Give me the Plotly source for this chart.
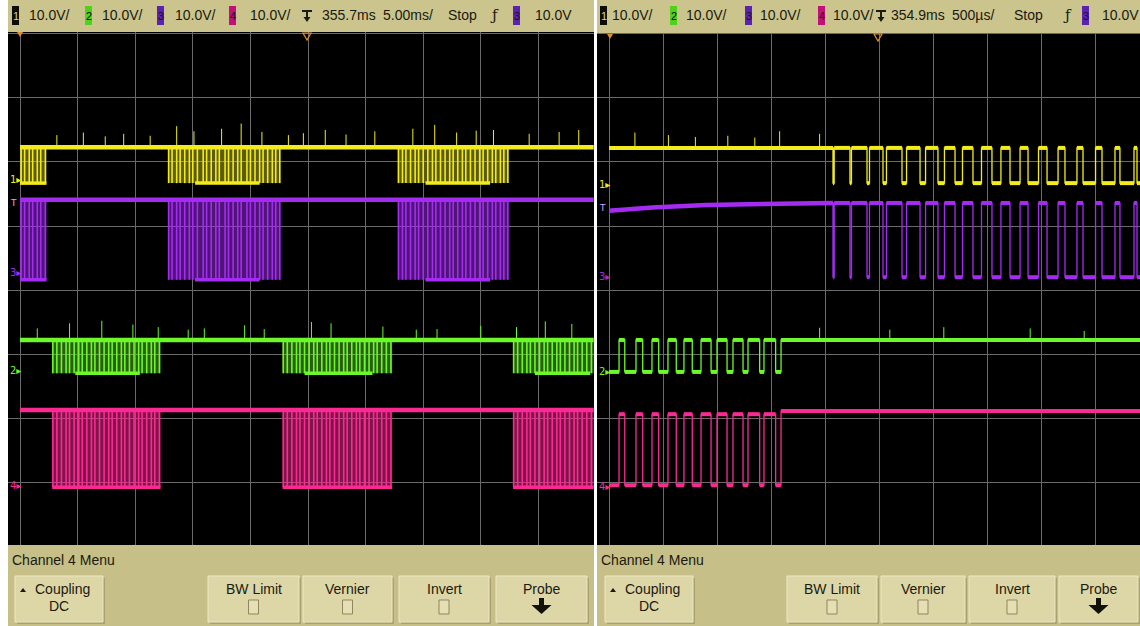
import plotly.graph_objects as go

W, H = 1140, 626

# ------------------------------------------------------------------ data
# Left capture: 5.00 ms/div, time in ms from the left graticule line,
# levels in volts (10 V/div, screen centre = 0 V, channel offsets included)
L_SPAN_MS = 49.8
L_CH1_HI, L_CH1_LO = 22.3, 16.7
L_CH3_HI, L_CH3_LO = 14.1, 1.6
L_CH2_HI, L_CH2_LO = -7.8, -13.0
L_CH4_HI, L_CH4_LO = -18.75, -30.8

L_BURSTS_13 = [(0.0, 2.3), (12.85, 22.6), (32.8, 42.4)]
L_BURSTS_24 = [(2.8, 12.2), (22.8, 32.3), (42.8, 49.8)]
L_LOWBAND_13 = [(0.0, 2.3), (15.2, 20.8), (35.2, 40.8)]
L_LOWBAND_2 = [(4.8, 10.4), (24.7, 30.6), (44.7, 49.5)]
L_LOWBAND_4 = [(2.8, 12.2), (22.8, 32.3), (42.8, 49.8)]
L_EDGES_13 = [0.1, 0.4, 0.8, 1.1, 1.5, 1.8, 2.2,
              12.9, 13.2, 13.6, 13.9, 14.3, 14.7, 15.0, 15.4, 15.9, 16.2, 16.6, 17.0, 17.3,
              17.8, 18.1, 18.5, 18.9, 19.2, 19.7, 20.0, 20.4, 20.8, 21.1, 21.5, 21.9, 22.2, 22.55,
              32.85, 33.2, 33.5, 33.9, 34.3, 34.6, 35.0, 35.4, 35.8, 36.1, 36.5, 36.9, 37.3,
              37.6, 38.0, 38.4, 38.7, 39.1, 39.5, 39.9, 40.2, 40.6, 41.0, 41.3, 41.7, 42.0, 42.35]
L_EDGES_24 = [2.85, 3.2, 3.6, 4.0, 4.3, 4.7, 5.1, 5.4, 5.8, 6.2, 6.5, 6.9, 7.3, 7.7, 8.0,
              8.4, 8.8, 9.1, 9.5, 9.9, 10.3, 10.6, 11.0, 11.4, 11.7, 12.1,
              22.85, 23.2, 23.6, 24.0, 24.3, 24.7, 25.1, 25.5, 25.8, 26.2, 26.6, 26.9, 27.3,
              27.7, 28.1, 28.4, 28.8, 29.2, 29.5, 29.9, 30.3, 30.7, 31.0, 31.4, 31.8, 32.2,
              42.85, 43.2, 43.6, 44.0, 44.3, 44.7, 45.1, 45.5, 45.8, 46.2, 46.6, 46.9, 47.3,
              47.7, 48.1, 48.4, 48.8, 49.2, 49.6]
L_SPIKES_CH1_T = [3.2, 5.5, 7.4, 9.0, 11.3, 13.6, 15.1, 17.5, 19.2, 21.0, 23.3, 24.6, 26.5,
                  28.3, 30.8, 34.1, 36.0, 37.9, 39.6, 41.1, 44.2, 46.8, 48.5]
L_SPIKES_CH1_V = [24.2, 24.6, 24.0, 24.4, 24.1, 25.6, 24.8, 25.2, 26.0, 24.7, 24.2, 24.5, 25.0,
                  24.3, 24.8, 25.2, 25.8, 24.6, 24.9, 25.0, 24.4, 24.7, 25.0]
L_SPIKES_CH2_T = [1.5, 4.3, 7.1, 9.8, 12.0, 14.6, 16.0, 19.5, 21.2, 25.3, 27.0, 31.5, 34.4,
                  36.2, 40.0, 43.1, 45.6, 47.9]
L_SPIKES_CH2_V = [-6.0, -5.2, -4.8, -5.4, -5.8, -6.2, -6.0, -5.5, -6.1, -5.0, -5.2, -5.7, -6.2,
                  -6.1, -5.6, -5.8, -4.9, -5.3]

# Right capture: 500 us/div, time in ms from the left graticule line
R_SPAN_MS = 4.92
R_CH1_HI, R_CH1_LO = 22.2, 16.7
R_CH3_HI, R_CH3_LO = 13.6, 2.0
R_CH2_HI, R_CH2_LO = -7.8, -12.8
R_CH4_HI, R_CH4_LO, R_CH4_IDLE = -19.4, -30.5, -18.9
R_CH3_DRIFT_T = [0.0, 0.4, 0.9, 1.5, 2.074]
R_CH3_DRIFT_V = [12.4, 12.9, 13.3, 13.5, 13.6]
R_FALL_13 = [2.074, 2.231, 2.389, 2.537, 2.713, 2.880, 3.046, 3.204, 3.370,
             3.546, 3.713, 3.880, 4.056, 4.222, 4.389, 4.565, 4.731, 4.889]
R_RISE_13 = [2.085, 2.245, 2.412, 2.569, 2.755, 2.931, 3.106, 3.273, 3.449,
             3.629, 3.806, 3.977, 4.158, 4.333, 4.505, 4.685, 4.861, 5.023]
R_RISE_24 = [0.093, 0.250, 0.398, 0.546, 0.694, 0.852, 1.000, 1.148, 1.287, 1.435, 1.593]
R_FALL_24 = [0.146, 0.312, 0.460, 0.623, 0.771, 0.945, 1.093, 1.241, 1.395, 1.543]
R_SPIKES_CH1_T = [0.24, 0.55, 0.8, 1.1, 1.35, 1.58, 1.95]
R_SPIKES_CH1_V = [24.6, 24.2, 23.9, 24.1, 23.8, 24.8, 24.4]
R_SPIKES_CH2_T = [1.95, 2.6, 3.1, 3.9, 4.4]
R_SPIKES_CH2_V = [-5.9, -6.2, -5.8, -6.0, -6.4]

YELLOW = "#f2ec1c"
PURPLE = "#a42cf2"
GREEN = "#6cf82a"
PINK = "#fa2a92"
KHAKI = "#cbc48d"
MENU = "#c6bf88"
FONT = "Liberation Sans, Arial, sans-serif"


def rgba(hexc, a):
    h = hexc.lstrip("#")
    return "rgba(%d,%d,%d,%.2f)" % (int(h[0:2], 16), int(h[2:4], 16), int(h[4:6], 16), a)


def segs(pairs, y):
    xs, ys = [], []
    for a, b in pairs:
        xs += [a, b, None]
        ys += [y, y, None]
    return xs, ys


def verts(times, y0, y1s):
    xs, ys = [], []
    for i, t in enumerate(times):
        y1 = y1s[i] if isinstance(y1s, list) else y1s
        xs += [t, t, None]
        ys += [y0, y1, None]
    return xs, ys


def rects(pairs, y0, y1):
    xs, ys = [], []
    for a, b in pairs:
        xs += [a, b, b, a, a, None]
        ys += [y0, y0, y1, y1, y0, None]
    return xs, ys


def inside(t, pairs):
    return any(a <= t <= b for a, b in pairs)


fig = go.Figure()


def add_line(xs, ys, color, width, axis):
    fig.add_trace(go.Scatter(x=xs, y=ys, mode="lines", line=dict(color=color, width=width),
                             xaxis="x" if axis == 1 else "x2", yaxis="y" if axis == 1 else "y2",
                             hoverinfo="skip", showlegend=False, connectgaps=False))


def add_fill(xs, ys, color, axis):
    fig.add_trace(go.Scatter(x=xs, y=ys, mode="lines", fill="toself", fillcolor=color,
                             line=dict(width=0, color=color),
                             xaxis="x" if axis == 1 else "x2", yaxis="y" if axis == 1 else "y2",
                             hoverinfo="skip", showlegend=False))


# ---------------------------------------------------------- left capture
def left_channel(hi, lo, bursts, edges, lowband, color, fill_a, spikes=None):
    add_fill(*rects(bursts, hi, lo), rgba(color, fill_a), 1)
    e = [t for t in edges if inside(t, bursts)]
    add_line(*verts(e, hi, lo), color, 1.6, 1)
    if spikes:
        add_line(*verts(spikes[0], hi, spikes[1]), color, 1, 1)
    add_line(*segs([(0, L_SPAN_MS)], hi), color, 4.5, 1)
    add_line(*segs(lowband, lo), color, 3.5, 1)


left_channel(L_CH1_HI, L_CH1_LO, L_BURSTS_13, L_EDGES_13, L_LOWBAND_13, YELLOW, 0.38,
             (L_SPIKES_CH1_T, L_SPIKES_CH1_V))
left_channel(L_CH3_HI, L_CH3_LO, L_BURSTS_13, L_EDGES_13, L_LOWBAND_13, PURPLE, 0.48)
left_channel(L_CH2_HI, L_CH2_LO, L_BURSTS_24, L_EDGES_24, L_LOWBAND_2, GREEN, 0.38,
             (L_SPIKES_CH2_T, L_SPIKES_CH2_V))
left_channel(L_CH4_HI, L_CH4_LO, L_BURSTS_24, L_EDGES_24, L_LOWBAND_4, PINK, 0.50)


# --------------------------------------------------------- right capture
def square(start_level, falls, rises, hi, lo, final_level=None):
    evts = [(t, lo) for t in falls] + [(t, hi) for t in rises]
    evts.sort()
    if final_level is not None:
        evts[-1] = (evts[-1][0], final_level)
    xs, ys = [0.0], [start_level]
    plateaus = []
    cur, cur_t = start_level, 0.0
    for t, lvl in evts:
        if t > R_SPAN_MS:
            break
        plateaus.append((cur_t, t, cur))
        xs += [t, t]
        ys += [cur, lvl]
        cur, cur_t = lvl, t
    xs.append(R_SPAN_MS)
    ys.append(cur)
    plateaus.append((cur_t, R_SPAN_MS, cur))
    return xs, ys, plateaus


def right_channel(xs, ys, plateaus, color, skip_before=None):
    add_line(xs, ys, color, 1.3, 2)
    px, py = [], []
    for a, b, lvl in plateaus:
        if skip_before is not None and b <= skip_before:
            continue
        px += [a, b, None]
        py += [lvl, lvl, None]
    add_line(px, py, color, 4, 2)


# ch1
add_line(*verts(R_SPIKES_CH1_T, R_CH1_HI, R_SPIKES_CH1_V), YELLOW, 1, 2)
x1, y1, p1 = square(R_CH1_HI, R_FALL_13, R_RISE_13, R_CH1_HI, R_CH1_LO)
right_channel(x1, y1, p1, YELLOW)
# ch3 (slow drift before switching starts)
x3, y3, p3 = square(R_CH3_HI, R_FALL_13, R_RISE_13, R_CH3_HI, R_CH3_LO)
x3 = R_CH3_DRIFT_T + x3[2:]
y3 = R_CH3_DRIFT_V + y3[2:]
add_line(R_CH3_DRIFT_T, R_CH3_DRIFT_V, PURPLE, 4.5, 2)
right_channel(x3, y3, p3, PURPLE, skip_before=R_FALL_13[0] + 1e-6)
# ch2
add_line(*verts(R_SPIKES_CH2_T, R_CH2_HI, R_SPIKES_CH2_V), GREEN, 1, 2)
x2, y2, p2 = square(R_CH2_LO, R_FALL_24, R_RISE_24, R_CH2_HI, R_CH2_LO)
right_channel(x2, y2, p2, GREEN)
# ch4
x4, y4, p4 = square(R_CH4_LO, R_FALL_24, R_RISE_24, R_CH4_HI, R_CH4_LO, final_level=R_CH4_IDLE)
right_channel(x4, y4, p4, PINK)

# ------------------------------------------------------------------ layout
def PX(x):
    return x / W


def PY(y):
    return 1 - y / H


shapes = []
annotations = []


def rect(x0, y0, x1, y1, fill, line=None, lw=0, layer="above"):
    shapes.append(dict(type="rect", xref="paper", yref="paper", x0=PX(x0), x1=PX(x1),
                       y0=PY(y1), y1=PY(y0), fillcolor=fill,
                       line=dict(color=line or fill, width=lw), layer=layer))


def seg(x0, y0, x1, y1, color, w):
    shapes.append(dict(type="line", xref="paper", yref="paper", x0=PX(x0), y0=PY(y0),
                       x1=PX(x1), y1=PY(y1), line=dict(color=color, width=w)))


def poly(pts, fill, line=None, lw=0):
    d = "M " + " L ".join("%f,%f" % (PX(a), PY(b)) for a, b in pts) + " Z"
    shapes.append(dict(type="path", xref="paper", yref="paper", path=d, fillcolor=fill,
                       line=dict(color=line or fill, width=lw)))


def text(x, y, s, size=14, color="#1a1a10", anchor="center", family=FONT):
    annotations.append(dict(x=PX(x), y=PY(y), xref="paper", yref="paper", text=s,
                            showarrow=False, xanchor=anchor, yanchor="middle",
                            font=dict(size=size, color=color, family=family)))


# panels: top status bar and bottom menu
rect(8, 0, 594, 32, KHAKI)
rect(597, 0, 1140, 33, KHAKI)
rect(8, 545, 594, 626, MENU)
rect(597, 545, 1140, 626, MENU)

BOX_COLORS = ["#0c0c08", "#4fd21c", "#5a22b0", "#c2107a"]
BOX_TEXT = ["#d8d090", "#0c0c08", "#1a0c30", "#2a0818"]


def status_bar(boxes, vlabels, trig_x, delay, delay_x, tb, tb_x, stop_x, f_x, src_x, lvl_x):
    for i, (bx, lx) in enumerate(zip(boxes, vlabels)):
        rect(bx, 6, bx + 7, 25, BOX_COLORS[i])
        text(bx + 3.5, 15.5, str(i + 1), 11, BOX_TEXT[i])
        text(lx, 15, "10.0V/", 14)
    # trigger-delay icon
    seg(trig_x - 5, 11, trig_x + 5, 11, "#1a1a10", 2)
    seg(trig_x, 11, trig_x, 20, "#1a1a10", 2)
    poly([(trig_x - 3.5, 17), (trig_x + 3.5, 17), (trig_x, 22)], "#1a1a10")
    text(delay_x, 15, delay, 14)
    text(tb_x, 15, tb, 14)
    text(stop_x, 15, "Stop", 14)
    text(f_x, 15, "ƒ", 15, family="DejaVu Serif, serif")
    rect(src_x, 6, src_x + 7, 25, BOX_COLORS[2])
    text(src_x + 3.5, 15.5, "3", 11, BOX_TEXT[2])
    text(lvl_x, 15, "10.0V", 14)


status_bar([12, 85, 157, 229], [49, 122, 195, 270], 307, "355.7ms", 349, "5.00ms/", 408,
           462, 494, 513, 553)
status_bar([600, 670, 745, 818], [633, 706, 780, 853], 881, "354.9ms", 918, "500µs/", 973,
           1028, 1067, 1082, 1120)


def menu(x0, buttons):
    text(x0 + 2, 560, "Channel 4 Menu", 14, anchor="left")
    for i, (bx0, bx1, label, kind) in enumerate(buttons):
        rect(bx0 + 2, 578, bx1 + 2, 624, "#a8a170")
        rect(bx0, 576, bx1, 622, "#ddd6a6", "#eee8c4", 1)
        cx = (bx0 + bx1) / 2
        if kind == "coupling":
            poly([(bx0 + 5, 592), (bx0 + 11, 592), (bx0 + 8, 588)], "#1a1a10")
            text(cx + 3, 589, label, 14)
            text(cx, 606, "DC", 14)
        elif kind == "box":
            text(cx, 589, label, 14)
            rect(cx - 5, 600, cx + 5, 614, "#e6dfb4", "#8d8660", 1)
        else:
            text(cx, 589, label, 14)
            rect(cx - 2.5, 598, cx + 2.5, 606, "#111108")
            poly([(cx - 10, 605), (cx + 10, 605), (cx, 614)], "#111108")


menu(8, [(15, 103, "Coupling", "coupling"), (208, 299, "BW Limit", "box"),
         (303, 392, "Vernier", "box"), (399, 489, "Invert", "box"), (496, 587, "Probe", "arrow")])
menu(597, [(605, 693, "Coupling", "coupling"), (787, 877, "BW Limit", "box"),
           (881, 965, "Vernier", "box"), (969, 1055, "Invert", "box"),
           (1059, 1138, "Probe", "arrow")])

# ground-reference markers and trigger markers on the screens
for ox in (0, 590):
    base = 12 if ox == 0 else 601
    gy = [180, 272, 370, 485] if ox == 0 else [184, 277, 372, 486]
    for lbl, y, c in zip(["1", "3", "2", "4"], gy, [YELLOW, PURPLE, GREEN, PINK]):
        text(base + 3, y, lbl + "▸", 10, c, family="DejaVu Sans, sans-serif")
    text(base + 1, 203 if ox == 0 else 208, "T", 9, "#c9a8ff", family="DejaVu Sans, sans-serif")

poly([(303, 33), (311, 33), (307, 40)], "rgba(0,0,0,0)", "#e0902a", 1.2)
poly([(874, 34), (882, 34), (878, 41)], "rgba(0,0,0,0)", "#e0902a", 1.2)
poly([(17, 32), (23, 32), (20, 37)], "#e0902a")
poly([(607, 34), (613, 34), (610, 39)], "#e0902a")

GRID = "#6a6a6a"
common_x = dict(showticklabels=False, zeroline=False, showline=False, ticks="",
                showgrid=True, gridcolor=GRID, gridwidth=1, fixedrange=True)
common_y = dict(showticklabels=False, zeroline=False, showline=False, ticks="",
                showgrid=True, gridcolor=GRID, gridwidth=1, fixedrange=True,
                tick0=0, dtick=10, range=[-39.84, 40.31], domain=[(626 - 545) / 626, (626 - 32) / 626])

fig.update_layout(
    width=W, height=H, autosize=False,
    margin=dict(l=0, r=0, t=0, b=0, pad=0),
    paper_bgcolor="#ffffff", plot_bgcolor="#000000",
    showlegend=False,
    xaxis=dict(domain=[8 / W, 594 / W], range=[(8 - 20) / 11.52, (594 - 20) / 11.52],
               tick0=0, dtick=5, **common_x),
    xaxis2=dict(domain=[597 / W, 1.0], range=[(597 - 609) / 108, (1140 - 609) / 108],
                tick0=0, dtick=0.5, **common_x),
    yaxis=dict(anchor="x", **common_y),
    yaxis2=dict(anchor="x2", **common_y),
    shapes=shapes, annotations=annotations,
)

fig.write_html("out.html", config={"displayModeBar": False, "responsive": False},
               post_script="document.body.style.margin='0';document.body.style.overflow='hidden';")
